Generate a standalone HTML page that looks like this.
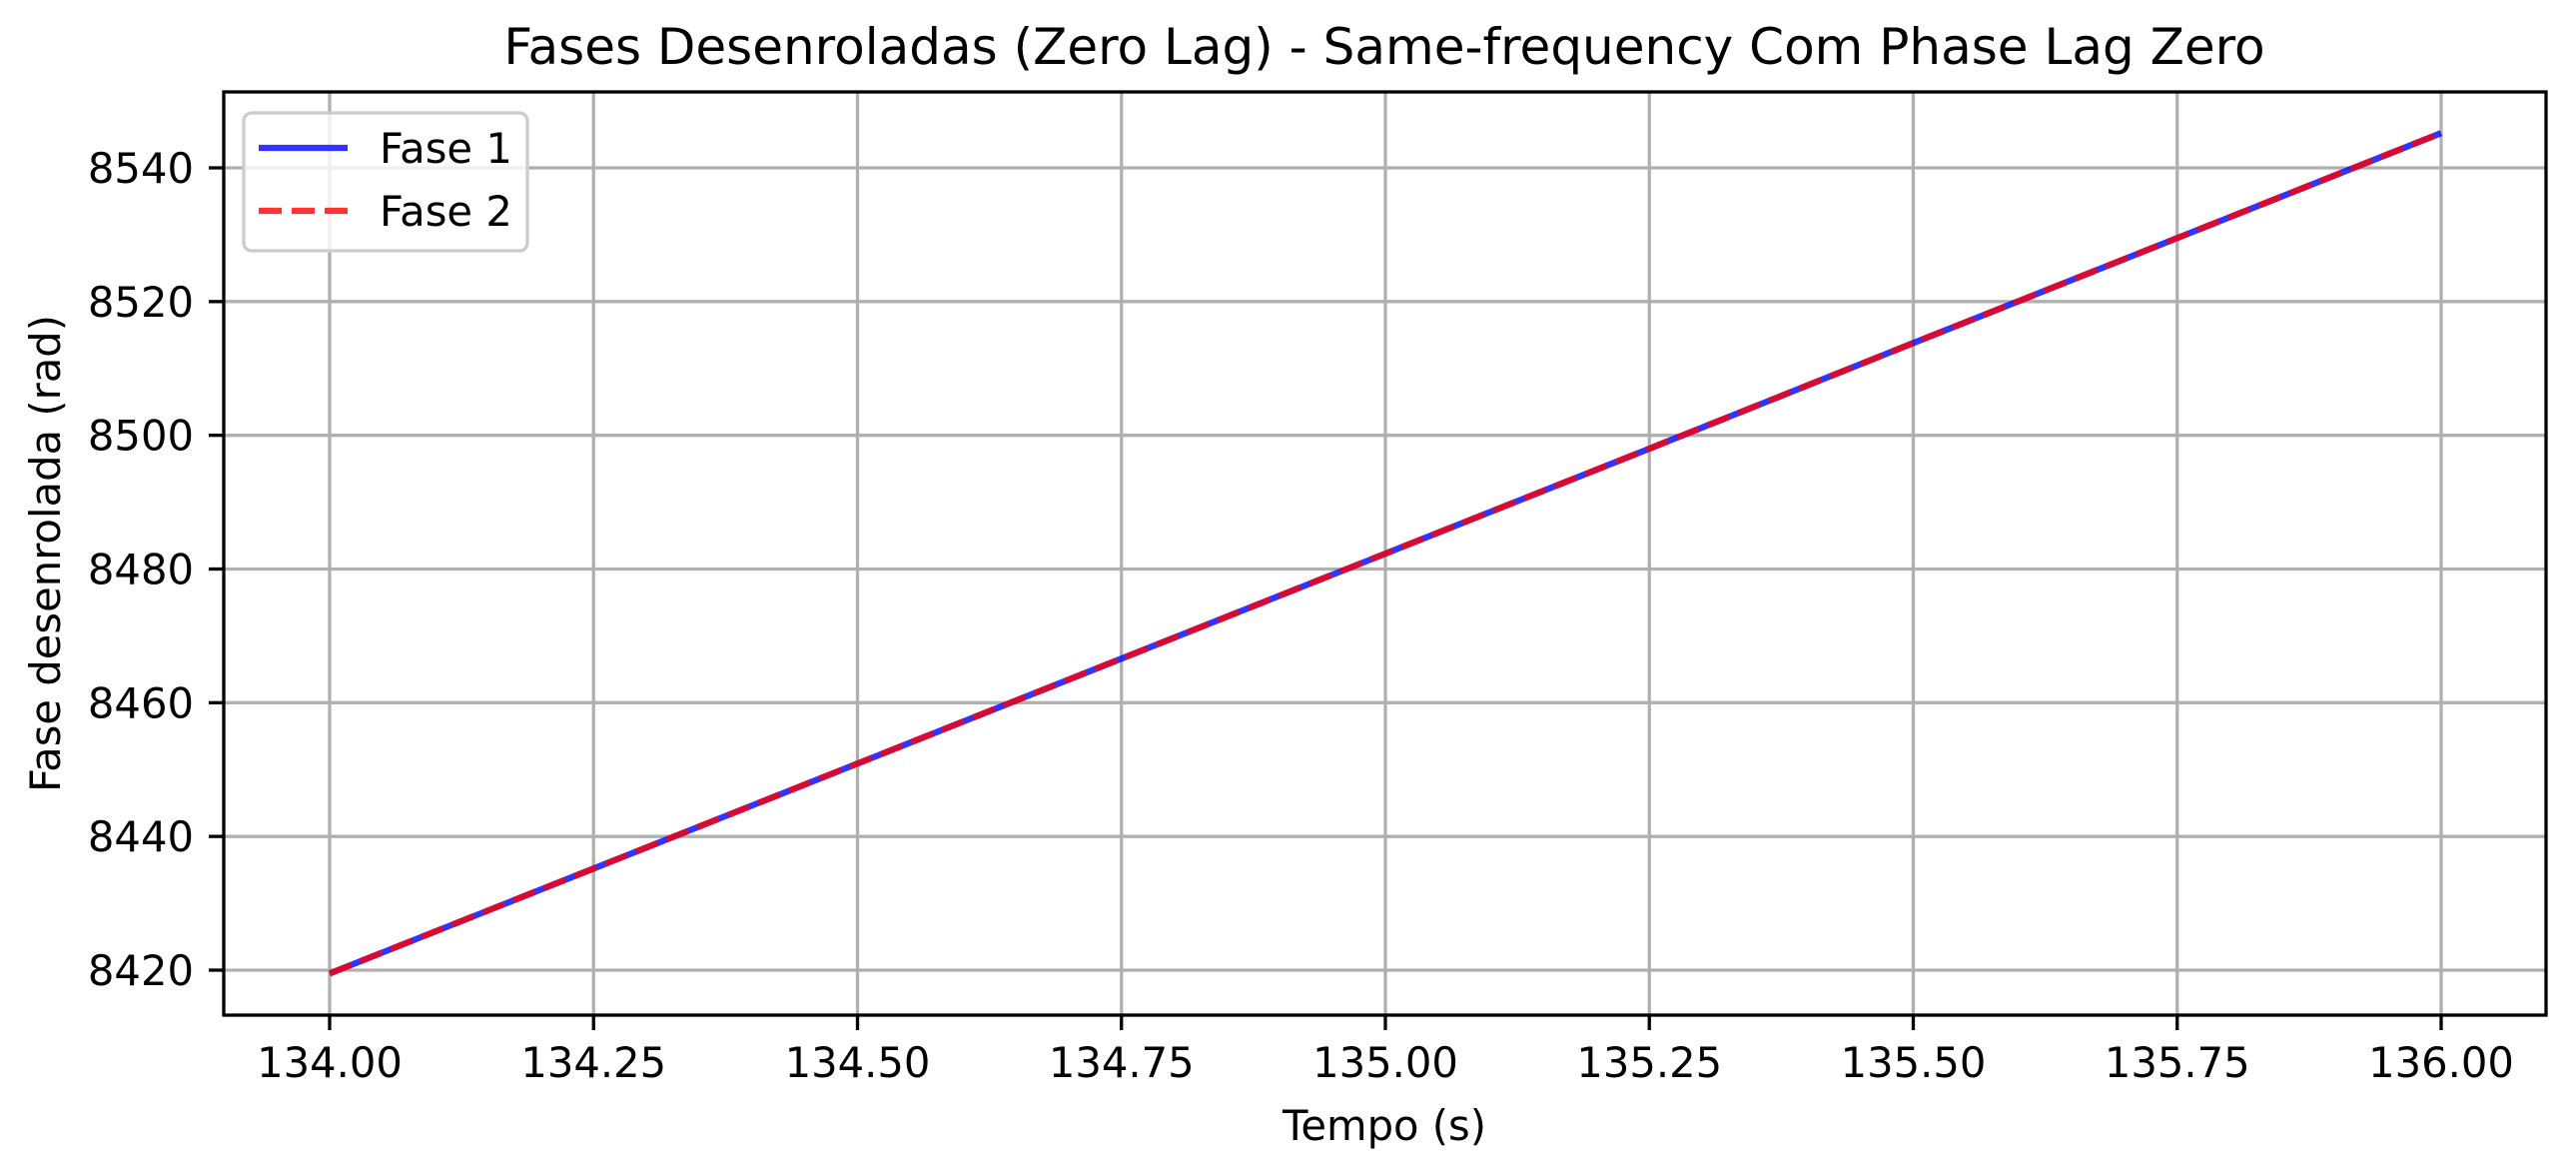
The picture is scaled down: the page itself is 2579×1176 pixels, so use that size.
<!DOCTYPE html>
<html><head><meta charset="utf-8"><style>
html,body{margin:0;padding:0;background:#fff;}
svg{display:block;font-family:"DejaVu Sans","Liberation Sans",sans-serif;}
</style></head><body>
<svg id="chart" width="2579" height="1176" viewBox="0 0 2579 1176" xmlns="http://www.w3.org/2000/svg">
<rect width="2579" height="1176" fill="#fff"/>
<text x="1386" y="64" font-size="50" text-anchor="middle">Fases Desenroladas (Zero Lag) - Same-frequency Com Phase Lag Zero</text>
<g id="grid"></g>
<g id="series"></g>
<rect x="224" y="92" width="2325" height="924" fill="none" stroke="#000" stroke-width="3.3"/>
<g id="ticks"></g>
<text x="1386" y="1141" font-size="41.7" text-anchor="middle">Tempo (s)</text>
<text transform="translate(60,554) rotate(-90)" font-size="41.7" text-anchor="middle">Fase desenrolada (rad)</text>
<g>
<rect x="244" y="113" width="284" height="138" rx="8" fill="#fff" fill-opacity="0.8" stroke="#cccccc" stroke-width="3.3"/>
<line x1="259" y1="148" x2="348" y2="148" stroke="#0000ff" stroke-opacity="0.8" stroke-width="6.25"/>
<text x="380" y="163" font-size="41.7">Fase 1</text>
<line x1="259" y1="211" x2="348" y2="211" stroke="#ff0000" stroke-opacity="0.8" stroke-width="6.25" stroke-dasharray="23,10"/>
<text x="380" y="226" font-size="41.7">Fase 2</text>
</g>
</svg>
<script>
const xTicks=[134.00,134.25,134.50,134.75,135.00,135.25,135.50,135.75,136.00];
const xTickLabels=["134.00","134.25","134.50","134.75","135.00","135.25","135.50","135.75","136.00"];
const yTicks=[8420,8440,8460,8480,8500,8520,8540];
const yTickLabels=["8420","8440","8460","8480","8500","8520","8540"];
const times=[134.00,134.25,134.50,134.75,135.00,135.25,135.50,135.75,136.00];
const fase1=[8419.5,8435.2,8450.9,8466.6,8482.3,8498.0,8513.8,8529.5,8545.2];
const fase2=[8419.5,8435.2,8450.9,8466.6,8482.3,8498.0,8513.8,8529.5,8545.2];
const NS="http://www.w3.org/2000/svg";
function xs(v){return 330+(v-134)/2*(2444-330);}
function ys(v){return 971-(v-8420)/120*(971-168);}
function mk(tag,attrs,parent){const e=document.createElementNS(NS,tag);for(const k in attrs)e.setAttribute(k,attrs[k]);parent.appendChild(e);return e;}
const grid=document.getElementById('grid'),ticks=document.getElementById('ticks'),series=document.getElementById('series');
xTicks.forEach((v,i)=>{
  const x=xs(v);
  const g=mk('line',{x1:x,y1:92,x2:x,y2:1016,stroke:'#b0b0b0','stroke-width':3.3},grid);
  
  
  const t=mk('line',{x1:x,y1:1016,x2:x,y2:1031,stroke:'#000','stroke-width':3.3},ticks);
  
  
  const l=mk('text',{x:x,y:1078,'font-size':41.7,'text-anchor':'middle'},ticks);
  l.textContent=xTickLabels[i];
  
  
});
yTicks.forEach((v,i)=>{
  const y=ys(v);
  const g=mk('line',{x1:224,y1:y,x2:2549,y2:y,stroke:'#b0b0b0','stroke-width':3.3},grid);
  
  
  const t=mk('line',{x1:209,y1:y,x2:224,y2:y,stroke:'#000','stroke-width':3.3},ticks);
  
  
  const l=mk('text',{x:194,y:y+15,'font-size':41.7,'text-anchor':'end'},ticks);
  l.textContent=yTickLabels[i];
  
  
});
function pts(arr){return times.map((t,i)=>xs(t)+','+ys(arr[i])).join(' ');}
const p1=mk('polyline',{points:pts(fase1),fill:'none',stroke:'#0000ff','stroke-opacity':0.8,'stroke-width':6.25},series);


const p2=mk('polyline',{points:pts(fase2),fill:'none',stroke:'#ff0000','stroke-opacity':0.8,'stroke-width':6.25,'stroke-dasharray':'23,10'},series);


</script>
</body></html>
